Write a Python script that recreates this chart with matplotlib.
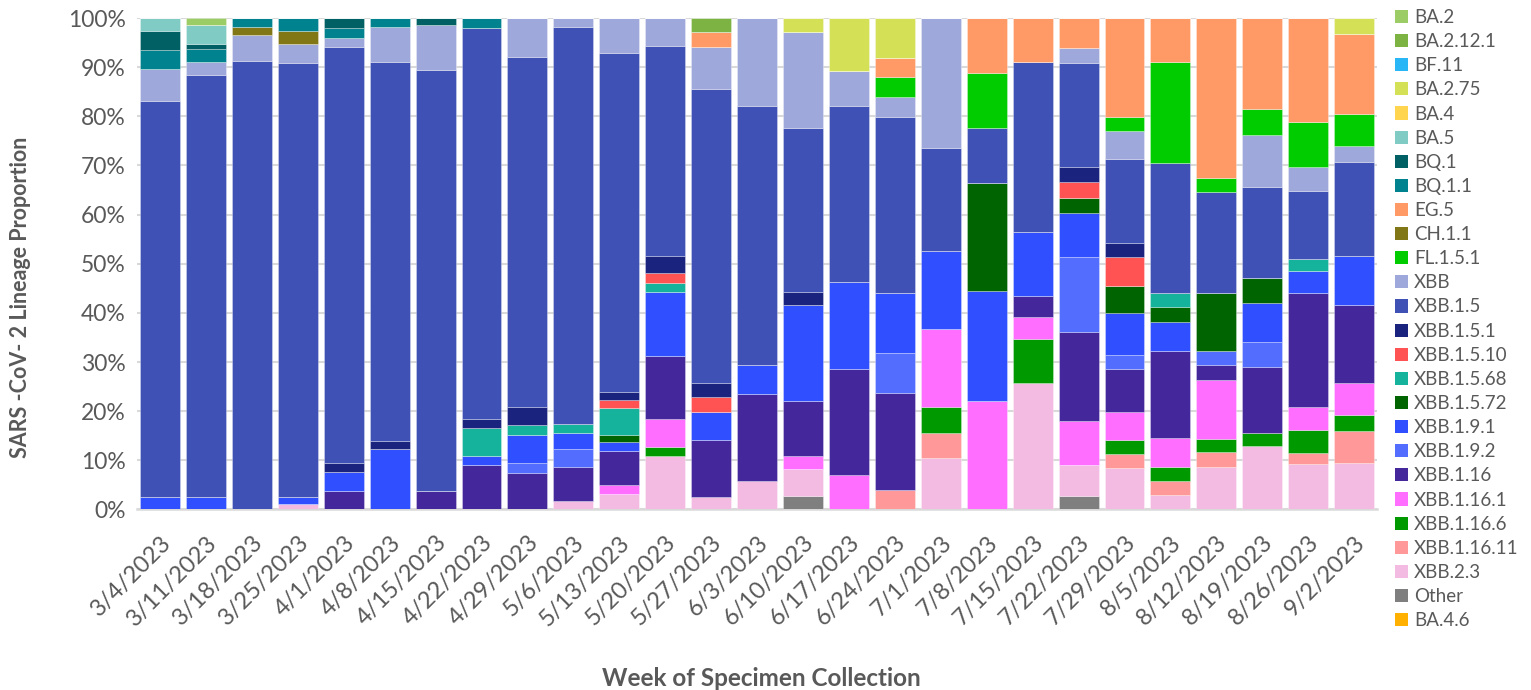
import numpy as np
import matplotlib
matplotlib.use('Agg')
import matplotlib.pyplot as plt
from matplotlib.patches import Patch

plt.rcParams['font.family'] = ['Lato', 'DejaVu Sans']

weeks = ['3/4/2023', '3/11/2023', '3/18/2023', '3/25/2023', '4/1/2023', '4/8/2023',
         '4/15/2023', '4/22/2023', '4/29/2023', '5/6/2023', '5/13/2023', '5/20/2023',
         '5/27/2023', '6/3/2023', '6/10/2023', '6/17/2023', '6/24/2023', '7/1/2023',
         '7/8/2023', '7/15/2023', '7/22/2023', '7/29/2023', '8/5/2023', '8/12/2023',
         '8/19/2023', '8/26/2023', '9/2/2023']

# lineage proportions (%) per week, bottom of the stack first
ba_4_6 = [0] * 27
other = [0, 0, 0, 0, 0, 0, 0, 0, 0, 0, 0, 0, 0, 0, 2.7, 0, 0, 0, 0, 0, 2.8, 0, 0, 0, 0, 0, 0]
xbb_2_3 = [0, 0, 0, 1.1, 0, 0, 0, 0, 0, 1.7, 3.2, 10.9, 2.6, 5.7, 5.5, 0, 0, 10.5, 0, 25.8,
           6.2, 8.4, 2.9, 8.7, 13.0, 9.3, 9.5]
xbb_1_16_11 = [0, 0, 0, 0, 0, 0, 0, 0, 0, 0, 0, 0, 0, 0, 0, 0, 3.9, 5.1, 0, 0, 0, 2.8, 2.8,
               2.9, 0, 2.2, 6.5]
xbb_1_16_6 = [0, 0, 0, 0, 0, 0, 0, 0, 0, 0, 0, 1.9, 0, 0, 0, 0, 0, 5.3, 0, 8.9, 0, 2.9, 2.9,
              2.8, 2.6, 4.6, 3.2]
xbb_1_16_1 = [0, 0, 0, 0, 0, 0, 0, 0, 0, 0, 1.8, 5.6, 0, 0, 2.7, 7.0, 0, 15.8, 22.1, 4.4,
              9.0, 5.8, 5.9, 11.9, 0, 4.7, 6.5]
xbb_1_16 = [0, 0, 0, 0, 3.7, 0, 3.8, 9.1, 7.5, 6.9, 7.0, 12.9, 11.5, 17.7, 11.2, 21.5, 19.9,
            0, 0, 4.3, 18.2, 8.6, 17.7, 3.0, 13.3, 23.2, 16.0]
xbb_1_9_2 = [0, 0, 0, 0, 0, 0, 0, 0, 2.0, 3.7, 0, 0, 0, 0, 0, 0, 8.0, 0, 0, 0, 15.2, 2.9, 0,
             2.9, 5.2, 0, 0]
xbb_1_9_1 = [2.5, 2.5, 0, 1.4, 3.9, 12.3, 0, 1.8, 5.7, 3.3, 1.7, 13.0, 5.8, 5.9, 19.5, 17.7,
             12.2, 15.9, 22.3, 13.0, 9.0, 8.5, 5.9, 0, 7.9, 4.6, 9.8]
xbb_1_5_72 = [0, 0, 0, 0, 0, 0, 0, 0, 0, 0, 1.5, 0, 0, 0, 0, 0, 0, 0, 22.1, 0, 3.0, 5.6, 3.0,
              11.8, 5.2, 0, 0]
xbb_1_5_68 = [0, 0, 0, 0, 0, 0, 0, 5.6, 2.0, 1.7, 5.4, 1.8, 0, 0, 0, 0, 0, 0, 0, 0, 0, 0, 2.9,
              0, 0, 2.4, 0]
xbb_1_5_10 = [0, 0, 0, 0, 0, 0, 0, 0, 0, 0, 1.7, 2.0, 2.9, 0, 0, 0, 0, 0, 0, 0, 3.2, 5.8, 0,
              0, 0, 0, 0]
xbb_1_5_1 = [0, 0, 0, 0, 1.9, 1.6, 0, 1.9, 3.7, 0, 1.7, 3.5, 2.9, 0, 2.7, 0, 0, 0, 0, 0, 3.0,
             2.9, 0, 0, 0, 0, 0]
xbb_1_5 = [80.7, 86.0, 91.3, 88.4, 84.7, 77.2, 85.7, 79.6, 71.2, 80.9, 68.9, 42.8, 59.9, 52.8,
           33.4, 35.8, 35.9, 21.0, 11.2, 34.7, 21.3, 17.1, 26.5, 20.5, 18.4, 13.9, 19.3]
xbb = [6.4, 2.5, 5.2, 3.9, 1.8, 7.1, 9.1, 0, 7.9, 1.8, 7.1, 5.6, 8.5, 17.9, 19.4, 7.2, 4.0,
       26.4, 0, 0, 2.9, 5.7, 0, 0, 10.6, 4.8, 3.2]
fl_1_5_1 = [0, 0, 0, 0, 0, 0, 0, 0, 0, 0, 0, 0, 0, 0, 0, 0, 4.0, 0, 11.2, 0, 0, 2.9, 20.6, 3.0,
            5.3, 9.1, 6.5]
ch_1_1 = [0, 0, 1.7, 2.6, 0, 0, 0, 0, 0, 0, 0, 0, 0, 0, 0, 0, 0, 0, 0, 0, 0, 0, 0, 0, 0, 0, 0]
eg_5 = [0, 0, 0, 0, 0, 0, 0, 0, 0, 0, 0, 0, 3.0, 0, 0, 0, 4.0, 0, 11.1, 8.9, 6.2, 20.1, 8.9,
        32.5, 18.5, 21.2, 16.2]
bq_1_1 = [3.8, 2.6, 1.8, 2.6, 2.0, 1.8, 0, 2.0, 0, 0, 0, 0, 0, 0, 0, 0, 0, 0, 0, 0, 0, 0, 0,
          0, 0, 0, 0]
bq_1 = [4.0, 1.2, 0, 0, 2.0, 0, 1.4, 0, 0, 0, 0, 0, 0, 0, 0, 0, 0, 0, 0, 0, 0, 0, 0, 0, 0, 0, 0]
ba_5 = [2.6, 3.8] + [0] * 25
ba_4 = [0] * 27
ba_2_75 = [0, 0, 0, 0, 0, 0, 0, 0, 0, 0, 0, 0, 0, 0, 2.9, 10.8, 8.1, 0, 0, 0, 0, 0, 0, 0, 0,
           0, 3.3]
bf_11 = [0] * 27
ba_2_12_1 = [0] * 12 + [2.9] + [0] * 14
ba_2 = [0, 1.4] + [0] * 25

series = [
    ('BA.4.6', ba_4_6, '#ffb000'),
    ('Other', other, '#7f7f7f'),
    ('XBB.2.3', xbb_2_3, '#f4bbe2'),
    ('XBB.1.16.11', xbb_1_16_11, '#ff9999'),
    ('XBB.1.16.6', xbb_1_16_6, '#009900'),
    ('XBB.1.16.1', xbb_1_16_1, '#ff6eff'),
    ('XBB.1.16', xbb_1_16, '#45279c'),
    ('XBB.1.9.2', xbb_1_9_2, '#536dfe'),
    ('XBB.1.9.1', xbb_1_9_1, '#304ffe'),
    ('XBB.1.5.72', xbb_1_5_72, '#006400'),
    ('XBB.1.5.68', xbb_1_5_68, '#15b39b'),
    ('XBB.1.5.10', xbb_1_5_10, '#ff5252'),
    ('XBB.1.5.1', xbb_1_5_1, '#1a237e'),
    ('XBB.1.5', xbb_1_5, '#3f51b5'),
    ('XBB', xbb, '#9fa8da'),
    ('FL.1.5.1', fl_1_5_1, '#00cc00'),
    ('CH.1.1', ch_1_1, '#827717'),
    ('EG.5', eg_5, '#ff9966'),
    ('BQ.1.1', bq_1_1, '#00838f'),
    ('BQ.1', bq_1, '#006064'),
    ('BA.5', ba_5, '#80cbc4'),
    ('BA.4', ba_4, '#ffd54f'),
    ('BA.2.75', ba_2_75, '#d4e157'),
    ('BF.11', bf_11, '#29b6f6'),
    ('BA.2.12.1', ba_2_12_1, '#7cb342'),
    ('BA.2', ba_2, '#9ccc65'),
]

fig = plt.figure(figsize=(15.31, 6.9), dpi=100)
ax = fig.add_axes([0.0895, 0.2616, 0.81, 0.7123])

x = np.arange(len(weeks))
bottom = np.zeros(len(weeks))
for name, vals, color in series:
    vals = np.array(vals) / 100
    ax.bar(x, vals, 0.87, bottom=bottom, color=color, edgecolor=(1, 1, 1, 0.35),
           linewidth=0.6, zorder=3)
    bottom += vals

ax.set_xlim(-0.5, len(weeks) - 0.5)
ax.set_ylim(0, 1)
ax.set_yticks(np.arange(0, 1.01, 0.1))
ax.set_yticklabels([f'{int(round(v * 100))}%' for v in np.arange(0, 1.01, 0.1)])
ax.yaxis.grid(True, color='#d9d9d9', linewidth=1.5, zorder=0)
for s in ['top', 'right', 'left']:
    ax.spines[s].set_visible(False)
ax.spines['bottom'].set_color('#d9d9d9')
ax.spines['bottom'].set_linewidth(1.8)
ax.tick_params(axis='both', length=0, labelsize=16.5, labelcolor='#595959')
ax.tick_params(axis='y', pad=8)
ax.set_xticks(x)
ax.set_xticklabels(weeks, rotation=45, ha='right', rotation_mode='anchor', fontsize=17)
ax.tick_params(axis='x', pad=16)

fig.text(0.0135, 0.569, 'SARS -CoV- 2 Lineage Proportion', rotation=90, ha='center',
         va='center', fontsize=15.5, fontweight='bold', color='#595959')
fig.text(0.497, 0.017, 'Week of Specimen Collection', ha='center', va='center',
         fontsize=17.5, fontweight='bold', color='#595959')

handles = [Patch(facecolor=c, label=n) for n, v, c in series]
order = list(range(len(series) - 1, 0, -1)) + [0]
leg = fig.legend([handles[i] for i in order], [series[i][0] for i in order],
                 loc='upper left', bbox_to_anchor=(1395 / 1531, 1 - 9 / 690),
                 frameon=False, fontsize=13.5, handlelength=0.7, handleheight=0.7,
                 handletextpad=0.3, labelspacing=0.38, borderpad=0, borderaxespad=0)
for t in leg.get_texts():
    t.set_color('#595959')

fig.savefig('out.png', dpi=100)
